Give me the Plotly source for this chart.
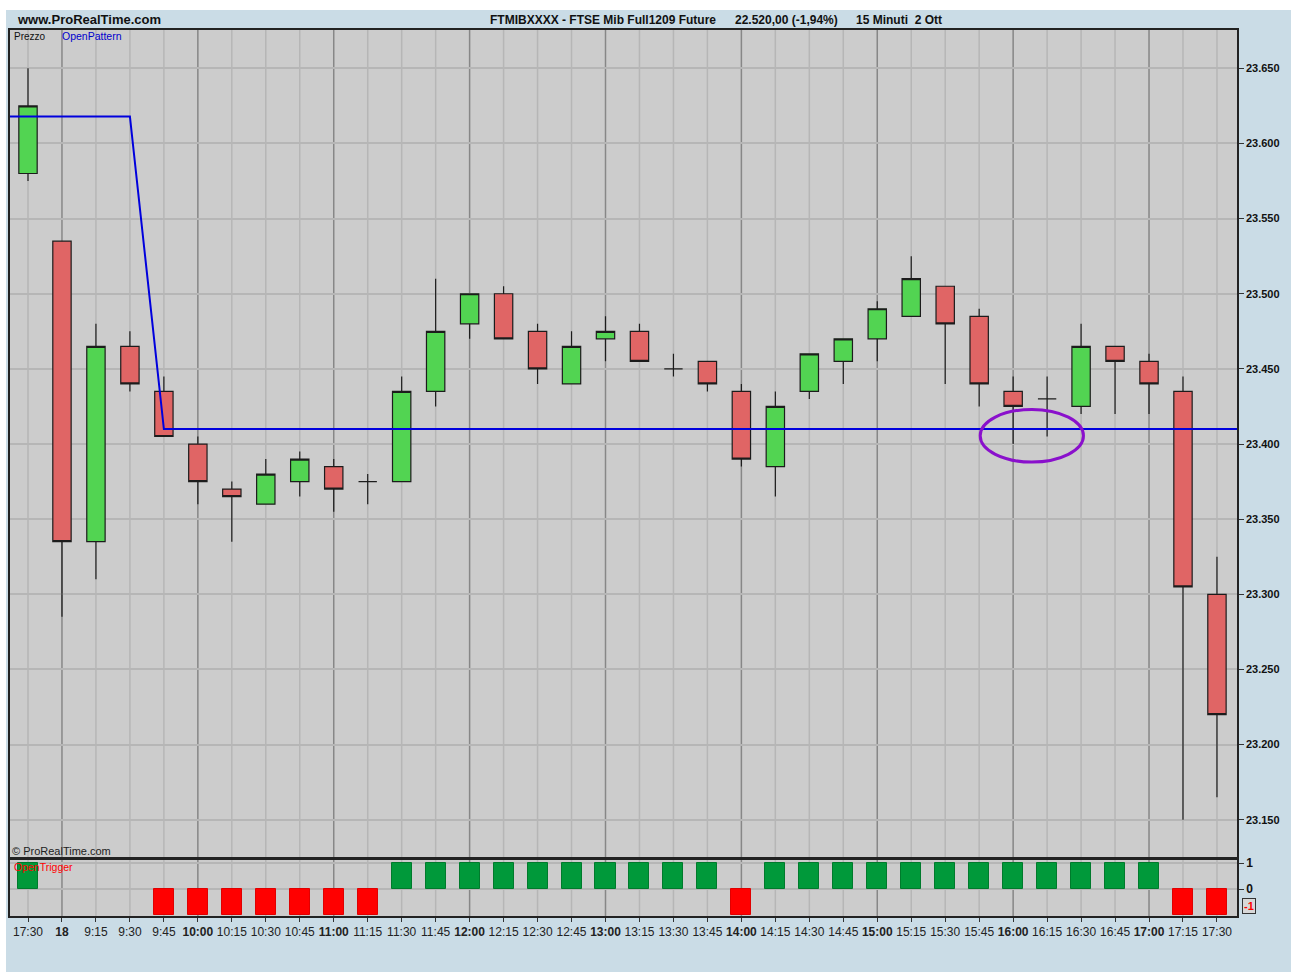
import plotly.graph_objects as go

# ---------------- data ----------------
time_labels = ["17:30", "18", "9:15", "9:30", "9:45", "10:00", "10:15", "10:30", "10:45",
               "11:00", "11:15", "11:30", "11:45", "12:00", "12:15", "12:30", "12:45",
               "13:00", "13:15", "13:30", "13:45", "14:00", "14:15", "14:30", "14:45",
               "15:00", "15:15", "15:30", "15:45", "16:00", "16:15", "16:30", "16:45",
               "17:00", "17:15", "17:30"]
hour_labels = ["18", "10:00", "11:00", "12:00", "13:00", "14:00", "15:00", "16:00", "17:00"]

open_prices = [23580, 23535, 23335, 23465, 23435, 23400, 23370, 23360, 23375, 23385,
               23375, 23375, 23435, 23480, 23500, 23475, 23440, 23470, 23475, 23450,
               23455, 23435, 23385, 23435, 23455, 23470, 23485, 23505, 23485, 23435,
               23430, 23425, 23465, 23455, 23435, 23300]
high_prices = [23650, 23535, 23480, 23475, 23445, 23405, 23375, 23390, 23395, 23390,
               23380, 23445, 23510, 23500, 23505, 23480, 23475, 23485, 23480, 23460,
               23455, 23440, 23435, 23460, 23470, 23495, 23525, 23505, 23490, 23445,
               23445, 23480, 23465, 23460, 23445, 23325]
low_prices = [23575, 23285, 23310, 23435, 23405, 23360, 23335, 23360, 23365, 23355,
              23360, 23375, 23425, 23470, 23470, 23440, 23440, 23455, 23455, 23445,
              23435, 23385, 23365, 23430, 23440, 23455, 23485, 23440, 23425, 23400,
              23405, 23420, 23420, 23420, 23150, 23165]
close_prices = [23625, 23335, 23465, 23440, 23405, 23375, 23365, 23380, 23390, 23370,
                23375, 23435, 23475, 23500, 23470, 23450, 23465, 23475, 23455, 23450,
                23440, 23390, 23425, 23460, 23470, 23490, 23510, 23480, 23440, 23425,
                23430, 23465, 23455, 23440, 23305, 23220]
open_pattern = [23618, 23618, 23618, 23618, 23410, 23410, 23410, 23410, 23410, 23410,
                23410, 23410, 23410, 23410, 23410, 23410, 23410, 23410, 23410, 23410,
                23410, 23410, 23410, 23410, 23410, 23410, 23410, 23410, 23410, 23410,
                23410, 23410, 23410, 23410, 23410, 23410]
open_trigger = [1, 0, 0, 0, -1, -1, -1, -1, -1, -1, -1, 1, 1, 1, 1, 1, 1, 1, 1, 1, 1,
                -1, 1, 1, 1, 1, 1, 1, 1, 1, 1, 1, 1, 1, -1, -1]
price_ticks = [23150, 23200, 23250, 23300, 23350, 23400, 23450, 23500, 23550, 23600, 23650]
trigger_ticks = [1, 0]

# ---------------- geometry / styles ----------------
W, H = 1291, 972
ML, MR, MT, MB = 10, 54, 30, 56
PW, PH = W - ML - MR, H - MT - MB


def px_x(x):
    return (x - ML) / PW


def px_y(y):
    return (H - MB - y) / PH


main_bottom = px_y(857)
ind_top = px_y(860)

FONT = "Liberation Sans, Arial, sans-serif"
BG_OUT = "#CADCE6"
BG_PLOT = "#CCCCCC"
GRID_LIGHT = "#B6B6B6"
GRID_DARK = "#878787"
FRAME = "#222222"

n = len(time_labels)
idx = list(range(n))

fig = go.Figure()

# candles
fig.add_trace(go.Candlestick(
    x=idx, open=open_prices, high=high_prices, low=low_prices, close=close_prices,
    increasing=dict(fillcolor="#52D452", line=dict(color="#1C1C1C", width=1.2)),
    decreasing=dict(fillcolor="#E06565", line=dict(color="#1C1C1C", width=1.2)),
    whiskerwidth=0, hoverinfo="skip", showlegend=False, xaxis="x", yaxis="y"))

# OpenPattern line (extended to the panel edges)
lx = [idx[0] - 1] + idx + [idx[-1] + 1]
ly = [open_pattern[0]] + open_pattern + [open_pattern[-1]]
fig.add_trace(go.Scatter(x=lx, y=ly, mode="lines", line=dict(color="#0000DD", width=2),
                         hoverinfo="skip", showlegend=False, xaxis="x", yaxis="y"))

# OpenTrigger bars
bar_y = [v if v != 0 else None for v in open_trigger]
bar_fill = ["#00993A" if v > 0 else "#FF0000" for v in open_trigger]
bar_line = ["#007A2C" if v > 0 else "#E00000" for v in open_trigger]
fig.add_trace(go.Bar(x=idx, y=bar_y, width=0.59,
                     marker=dict(color=bar_fill, line=dict(color=bar_line, width=1)),
                     hoverinfo="skip", showlegend=False, xaxis="x2", yaxis="y2"))

shapes = []
# white page edges
shapes.append(dict(type="rect", xref="paper", yref="paper", x0=px_x(0), x1=px_x(W),
                   y0=px_y(10), y1=px_y(0), fillcolor="white", line=dict(width=0), layer="below"))
shapes.append(dict(type="rect", xref="paper", yref="paper", x0=px_x(0), x1=px_x(6),
                   y0=px_y(H), y1=px_y(0), fillcolor="white", line=dict(width=0), layer="below"))
# vertical grid lines (darker at each hour)
for i, lab in enumerate(time_labels):
    col = GRID_DARK if lab in hour_labels else GRID_LIGHT
    for xr, yr in (("x", "y domain"), ("x2", "y2 domain")):
        shapes.append(dict(type="line", xref=xr, yref=yr, x0=i, x1=i, y0=0, y1=1,
                           line=dict(color=col, width=1.5), layer="below"))
# purple ellipse highlighting
shapes.append(dict(type="circle", xref="x", yref="y", x0=28.03, x1=31.07, y0=23388, y1=23423,
                   line=dict(color="#8A10CC", width=3), layer="above"))

price_text = ["<b>" + f"{v:,}".replace(",", ".") + "</b>" for v in price_ticks]
x_text = ["<b>%s</b>" % l if l in hour_labels else l for l in time_labels]

annotations = [
    dict(text="<b>www.ProRealTime.com</b>", x=px_x(15), y=px_y(20), xref="paper", yref="paper",
         xanchor="left", yanchor="middle", showarrow=False,
         font=dict(family=FONT, size=13, color="#111111")),
    dict(text="<b>FTMIBXXXX - FTSE Mib Full1209 Future</b>", x=px_x(488), y=px_y(20),
         xref="paper", yref="paper", xanchor="left", yanchor="middle", showarrow=False,
         font=dict(family=FONT, size=12, color="#111111")),
    dict(text="<b>22.520,00 (-1,94%)</b>", x=px_x(733), y=px_y(20),
         xref="paper", yref="paper", xanchor="left", yanchor="middle", showarrow=False,
         font=dict(family=FONT, size=12, color="#111111")),
    dict(text="<b>15 Minuti\u00a0\u00a02 Ott</b>", x=px_x(854), y=px_y(20),
         xref="paper", yref="paper", xanchor="left", yanchor="middle", showarrow=False,
         font=dict(family=FONT, size=12, color="#111111")),
    dict(text="Prezzo", x=px_x(12), y=px_y(36), xref="paper", yref="paper",
         xanchor="left", yanchor="middle", showarrow=False,
         font=dict(family=FONT, size=10, color="#111111")),
    dict(text="OpenPattern", x=px_x(60), y=px_y(36), xref="paper", yref="paper",
         xanchor="left", yanchor="middle", showarrow=False,
         font=dict(family=FONT, size=10.5, color="#0000CC")),
    dict(text="\u00a9 ProRealTime.com", x=px_x(10), y=px_y(851), xref="paper", yref="paper",
         xanchor="left", yanchor="middle", showarrow=False,
         font=dict(family=FONT, size=11, color="#222222")),
    dict(text="OpenTrigger", x=px_x(12), y=px_y(867), xref="paper", yref="paper",
         xanchor="left", yanchor="middle", showarrow=False,
         font=dict(family=FONT, size=10.5, color="#FF0000")),
    dict(text="<b>-1</b>", x=px_x(1249), y=px_y(906), xref="paper", yref="paper",
         xanchor="center", yanchor="middle", showarrow=False,
         bgcolor="#D8D8D8", bordercolor="#333333", borderwidth=1, borderpad=1,
         font=dict(family=FONT, size=11, color="#FF0000")),
]

fig.update_layout(
    width=W, height=H,
    margin=dict(l=ML, r=MR, t=MT, b=MB, autoexpand=False),
    paper_bgcolor=BG_OUT, plot_bgcolor=BG_PLOT,
    showlegend=False, hovermode=False,
    boxgap=0.46, boxgroupgap=0, bargap=0,
    shapes=shapes, annotations=annotations,
    xaxis=dict(domain=[0, 1], anchor="y", range=[-0.53, 35.59], showgrid=False, zeroline=False,
               showticklabels=False, ticks="", showline=True, mirror=True,
               linecolor=FRAME, linewidth=1.5, rangeslider=dict(visible=False),
               fixedrange=True),
    yaxis=dict(domain=[main_bottom, 1], anchor="x", range=[23125.2, 23675.5], side="right",
               tickmode="array", tickvals=price_ticks, ticktext=price_text,
               ticks="outside", ticklen=5, tickcolor="#333333", tickwidth=1,
               showgrid=True, gridcolor=GRID_LIGHT, gridwidth=1.5, zeroline=False,
               showline=True, mirror=True, linecolor=FRAME, linewidth=1.5,
               tickfont=dict(family=FONT, size=11, color="#111111")),
    xaxis2=dict(domain=[0, 1], anchor="y2", matches="x", range=[-0.53, 35.59],
                tickmode="array", tickvals=idx, ticktext=x_text,
                ticks="outside", ticklen=4, tickcolor="#333333", tickwidth=1,
                showgrid=False, zeroline=False, showline=True, mirror=True,
                linecolor=FRAME, linewidth=1.5,
                tickfont=dict(family=FONT, size=12, color="#222222")),
    yaxis2=dict(domain=[0, ind_top], anchor="x2", range=[-1.04, 1.12], side="right",
                tickmode="array", tickvals=trigger_ticks,
                ticktext=["<b>%d</b>" % v for v in trigger_ticks],
                ticks="outside", ticklen=5, tickcolor="#333333",
                showgrid=True, gridcolor=GRID_LIGHT, gridwidth=1.5, zeroline=False,
                showline=True, mirror=True, linecolor=FRAME, linewidth=1.5,
                tickfont=dict(family=FONT, size=12, color="#111111")),
)

fig.write_html("out.html", config={"displayModeBar": False},
               post_script="document.body.style.margin='0';document.body.style.overflow='hidden';")
